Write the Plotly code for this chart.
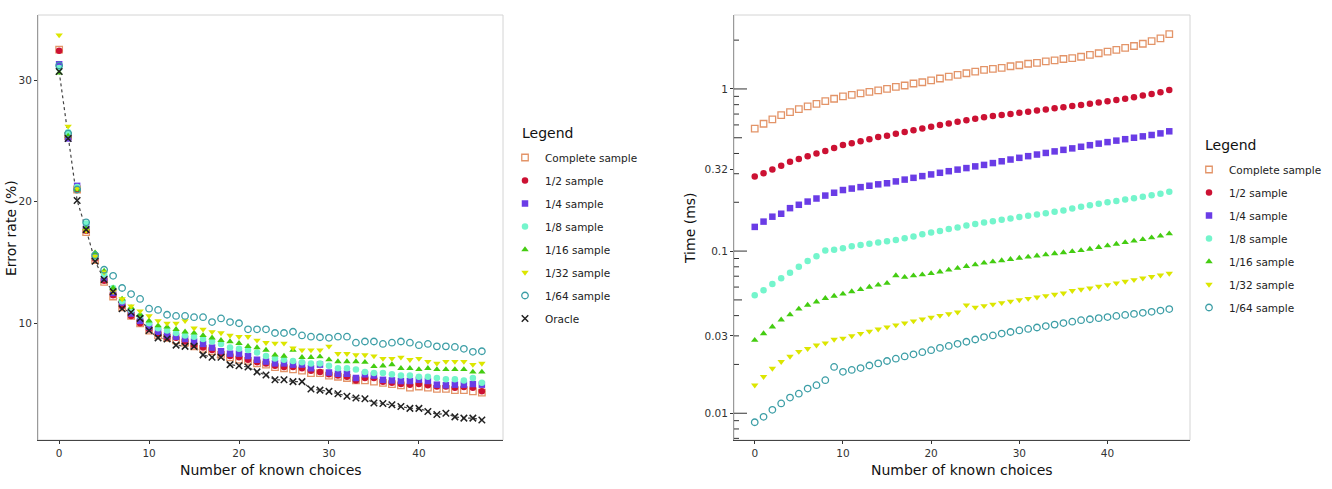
import plotly.graph_objects as go

# ---------------- data ----------------
known = list(range(48))

series_names = ["Complete sample", "1/2 sample", "1/4 sample", "1/8 sample",
                "1/16 sample", "1/32 sample", "1/64 sample"]

err_complete = [32.5, 25.4, 21.0, 17.5, 15.2, 13.4, 12.2, 11.3, 10.6, 10.0, 9.4, 9.0, 8.8, 8.6, 8.4, 8.1,
                7.9, 7.7, 7.4, 7.2, 7.0, 6.9, 6.7, 6.6, 6.4, 6.3, 6.2, 6.1, 5.9, 5.9, 5.7, 5.6,
                5.5, 5.3, 5.3, 5.2, 5.1, 5.0, 4.9, 4.7, 4.8, 4.7, 4.6, 4.6, 4.5, 4.5, 4.4, 4.3]
err_half = [32.4, 25.3, 21.0, 17.6, 15.3, 13.5, 12.3, 11.4, 10.6, 10.0, 9.5, 9.1, 8.8, 8.8, 8.5, 8.2,
            8.0, 7.8, 7.5, 7.3, 7.2, 7.0, 6.8, 6.7, 6.5, 6.4, 6.4, 6.3, 6.1, 6.0, 5.8, 5.7,
            5.6, 5.3, 5.5, 5.5, 5.2, 5.1, 5.0, 4.95, 5.0, 4.9, 4.8, 4.8, 4.7, 4.75, 4.7, 4.4]
err_quarter = [31.3, 25.2, 21.3, 17.9, 15.5, 13.7, 12.5, 11.7, 10.8, 10.2, 9.7, 9.3, 9.0, 8.9, 8.7, 8.5,
               8.3, 8.0, 7.7, 7.5, 7.5, 7.3, 7.0, 6.85, 6.7, 6.7, 6.6, 6.6, 6.3, 6.6, 5.95, 5.85,
               5.85, 5.5, 5.8, 5.7, 5.35, 5.3, 5.25, 5.25, 5.35, 5.25, 4.95, 4.9, 4.95, 4.95, 5.0, 4.95]
err_eighth = [31.0, 25.7, 21.2, 18.2, 15.4, 14.0, 12.9, 11.8, 11.1, 10.6, 10.0, 9.6, 9.4, 9.2, 9.0, 8.9,
              8.7, 8.5, 8.3, 8.0, 7.9, 7.8, 7.6, 7.3, 7.1, 7.0, 6.9, 6.8, 6.7, 6.7, 6.5, 6.3,
              6.3, 6.2, 6.0, 5.9, 5.9, 5.8, 5.7, 5.7, 5.6, 5.6, 5.5, 5.4, 5.4, 5.3, 5.5, 5.1]
err_16 = [30.6, 25.4, 21.0, 17.8, 15.8, 14.3, 12.9, 12.0, 11.3, 10.7, 10.2, 9.8, 9.7, 9.5, 9.3, 9.2,
          9.0, 8.8, 8.6, 8.5, 8.35, 8.1, 8.0, 7.8, 7.4, 7.3, 7.8, 7.2, 7.2, 7.25, 7.0, 6.85,
          6.85, 6.85, 6.8, 6.45, 6.5, 6.6, 6.3, 6.3, 6.2, 6.3, 6.2, 6.2, 6.2, 6.2, 6.0, 6.0]
err_32 = [33.7, 26.2, 21.1, 17.6, 15.5, 14.2, 12.6, 12.0, 11.4, 11.0, 10.6, 10.2, 10.0, 10.0, 10.2, 9.6,
          9.5, 9.3, 9.2, 9.0, 8.9, 8.9, 8.6, 8.4, 8.35, 8.35, 7.95, 7.8, 7.8, 7.8, 8.1, 7.5,
          7.5, 7.4, 7.4, 7.3, 7.1, 7.1, 7.2, 7.0, 7.1, 6.85, 6.7, 6.85, 6.85, 6.85, 6.6, 6.7]
err_64 = [31.2, 25.6, 21.0, 18.3, 15.6, 14.4, 13.9, 12.9, 12.4, 12.0, 11.2, 11.1, 10.7, 10.6, 10.6, 10.5,
          10.5, 10.1, 10.4, 10.1, 10.0, 9.5, 9.5, 9.5, 9.2, 9.2, 9.3, 9.0, 8.9, 8.85, 8.8, 8.9,
          8.9, 8.4, 8.5, 8.5, 8.3, 8.4, 8.5, 8.4, 8.2, 8.3, 8.1, 8.1, 8.05, 7.9, 7.65, 7.7]
err_oracle = [30.7, 25.2, 20.1, 17.7, 15.1, 13.6, 12.6, 11.2, 10.9, 10.4, 9.4, 8.8, 8.7, 8.2, 8.1, 8.1,
              7.4, 7.2, 7.2, 6.6, 6.5, 6.4, 6.0, 5.75, 5.35, 5.35, 5.2, 5.2, 4.6, 4.5, 4.4, 4.2,
              4.0, 3.85, 3.8, 3.45, 3.4, 3.3, 3.15, 3.0, 3.0, 2.75, 2.5, 2.6, 2.3, 2.2, 2.2, 2.05]

time_complete = [0.57, 0.61, 0.65, 0.69, 0.72, 0.75, 0.78, 0.81, 0.84, 0.87, 0.90, 0.92, 0.94, 0.96, 0.98, 1.0,
                 1.03, 1.05, 1.08, 1.10, 1.13, 1.16, 1.19, 1.22, 1.25, 1.28, 1.31, 1.33, 1.35, 1.38, 1.40, 1.43,
                 1.45, 1.48, 1.50, 1.53, 1.55, 1.58, 1.62, 1.66, 1.70, 1.74, 1.79, 1.84, 1.90, 1.97, 2.05, 2.18]
time_half = [0.288, 0.302, 0.319, 0.336, 0.356, 0.37, 0.385, 0.40, 0.415, 0.433, 0.451, 0.463, 0.476, 0.49, 0.505, 0.515,
             0.53, 0.543, 0.557, 0.571, 0.585, 0.599, 0.613, 0.627, 0.641, 0.655, 0.669, 0.68, 0.69, 0.70, 0.712, 0.724,
             0.736, 0.748, 0.76, 0.772, 0.785, 0.797, 0.81, 0.825, 0.84, 0.855, 0.87, 0.89, 0.91, 0.93, 0.955, 0.986]
time_quarter = [0.141, 0.152, 0.163, 0.17, 0.184, 0.193, 0.202, 0.211, 0.22, 0.229, 0.238, 0.243, 0.248, 0.253, 0.258, 0.262,
                0.269, 0.276, 0.283, 0.29, 0.297, 0.304, 0.311, 0.318, 0.325, 0.333, 0.34, 0.349, 0.358, 0.367, 0.376, 0.385,
                0.394, 0.403, 0.412, 0.421, 0.43, 0.44, 0.45, 0.46, 0.47, 0.48, 0.49, 0.50, 0.51, 0.52, 0.532, 0.548]
time_eighth = [0.0535, 0.0574, 0.0626, 0.0679, 0.0735, 0.080, 0.087, 0.093, 0.101, 0.102, 0.104, 0.107, 0.109, 0.111, 0.113, 0.115,
               0.117, 0.120, 0.123, 0.127, 0.130, 0.133, 0.137, 0.140, 0.144, 0.147, 0.150, 0.153, 0.156, 0.159, 0.162, 0.165,
               0.168, 0.171, 0.175, 0.178, 0.183, 0.188, 0.192, 0.196, 0.200, 0.204, 0.208, 0.212, 0.216, 0.221, 0.226, 0.232]
time_16 = [0.0282, 0.031, 0.0341, 0.0377, 0.0405, 0.044, 0.0465, 0.0487, 0.0511, 0.0528, 0.0544, 0.0563, 0.058, 0.060, 0.0618, 0.0634,
           0.0706, 0.069, 0.0705, 0.0715, 0.0728, 0.0745, 0.0765, 0.0785, 0.0805, 0.0825, 0.0845, 0.086, 0.0875, 0.089, 0.0905, 0.092,
           0.0935, 0.095, 0.0965, 0.098, 0.0995, 0.101, 0.103, 0.1055, 0.108, 0.1105, 0.113, 0.1155, 0.118, 0.121, 0.124, 0.128]
time_32 = [0.0149, 0.0168, 0.0189, 0.0208, 0.0224, 0.024, 0.025, 0.0263, 0.0271, 0.0285, 0.029, 0.030, 0.031, 0.032, 0.033, 0.034,
           0.035, 0.036, 0.037, 0.038, 0.039, 0.040, 0.041, 0.042, 0.0465, 0.045, 0.046, 0.047, 0.048, 0.049, 0.050, 0.051,
           0.052, 0.053, 0.054, 0.055, 0.057, 0.058, 0.059, 0.0605, 0.062, 0.0635, 0.065, 0.0665, 0.068, 0.0695, 0.071, 0.0728]
time_64 = [0.0088, 0.0095, 0.0105, 0.0115, 0.0125, 0.0132, 0.0142, 0.0149, 0.016, 0.0193, 0.018, 0.0185, 0.019, 0.0197, 0.0203, 0.021,
           0.0217, 0.0224, 0.0231, 0.0238, 0.0245, 0.0253, 0.026, 0.0268, 0.0276, 0.0285, 0.0295, 0.0302, 0.031, 0.0317, 0.0324, 0.0331,
           0.0338, 0.0345, 0.0352, 0.036, 0.0367, 0.0375, 0.038, 0.0386, 0.0392, 0.0398, 0.0404, 0.041, 0.0416, 0.0422, 0.043, 0.0439]

x_ticks = [0, 10, 20, 30, 40]
err_ticks = [10, 20, 30]
time_tickvals = [0.01, 0.03, 0.1, 0.32, 1]
time_ticktext = ["0.01", "0.03", "0.1", "0.32", "1"]

# ---------------- styles ----------------
colors = ["#E39468", "#CC1133", "#6A3CE6", "#74F5CC", "#44CC11", "#DCE600", "#3C9EA6"]
symbols = ["square-open", "circle", "square", "circle", "triangle-up", "triangle-down", "circle-open"]
err_series = [err_complete, err_half, err_quarter, err_eighth, err_16, err_32, err_64]
time_series = [time_complete, time_half, time_quarter, time_eighth, time_16, time_32, time_64]

FONT = "DejaVu Sans, Liberation Sans, sans-serif"
W, H = 1332, 489
# panel pixel boxes
L_X0, L_X1 = 38, 503
R_X0, R_X1 = 734, 1190
P_Y0, P_Y1 = 15, 440

fig = go.Figure()

# oracle dotted line (left)
fig.add_trace(go.Scatter(x=known, y=err_oracle, mode="lines",
                         line=dict(color="#444444", width=1.2, dash="dot"),
                         showlegend=False, hoverinfo="skip", xaxis="x", yaxis="y"))

for i, name in enumerate(series_names):
    fig.add_trace(go.Scatter(
        x=known, y=err_series[i], mode="markers", name=name,
        marker=dict(symbol=symbols[i], color=colors[i], size=6.5,
                    line=dict(width=1.3 if "open" in symbols[i] else 0, color=colors[i])),
        xaxis="x", yaxis="y", legend="legend", legendgroup="L%d" % i))
fig.add_trace(go.Scatter(
    x=known, y=err_oracle, mode="markers", name="Oracle",
    marker=dict(symbol="x-thin", color="#222222", size=6.5, line=dict(width=1.5, color="#222222")),
    xaxis="x", yaxis="y", legend="legend", legendgroup="L7"))

for i, name in enumerate(series_names):
    fig.add_trace(go.Scatter(
        x=known, y=time_series[i], mode="markers", name=name,
        marker=dict(symbol=symbols[i], color=colors[i], size=6.5,
                    line=dict(width=1.3 if "open" in symbols[i] else 0, color=colors[i])),
        xaxis="x2", yaxis="y2", legend="legend2", legendgroup="R%d" % i))

ax_common = dict(showgrid=False, zeroline=False, showline=True, ticks="outside",
                 ticklen=3, tickwidth=1, tickcolor="#333333",
                 tickfont=dict(family=FONT, size=10.5, color="#333333"))

fig.update_layout(
    width=W, height=H, margin=dict(l=0, r=0, t=0, b=0),
    paper_bgcolor="white", plot_bgcolor="white",
    font=dict(family=FONT, size=11, color="#222222"),
    xaxis=dict(domain=[L_X0 / W, L_X1 / W], range=[-2.35, 49.35], tickvals=x_ticks,
               linecolor="#444444", anchor="y", **ax_common),
    yaxis=dict(domain=[1 - P_Y1 / H, 1 - P_Y0 / H], range=[0.4, 35.35], tickvals=err_ticks,
               linecolor="#9a9a9a", anchor="x", **ax_common),
    xaxis2=dict(domain=[R_X0 / W, R_X1 / W], range=[-2.35, 49.35], tickvals=x_ticks,
                linecolor="#444444", anchor="y2", **ax_common),
    yaxis2=dict(domain=[1 - P_Y1 / H, 1 - P_Y0 / H], type="log", range=[-2.165, 0.456],
                tickvals=time_tickvals, ticktext=time_ticktext,
                linecolor="#9a9a9a", anchor="x2", **ax_common),
    legend=dict(x=505 / W, y=1 - 143 / H, xanchor="left", yanchor="top",
                font=dict(family=FONT, size=10.5, color="#222222"),
                tracegroupgap=4, itemwidth=30, bgcolor="rgba(0,0,0,0)"),
    legend2=dict(x=1189 / W, y=1 - 155 / H, xanchor="left", yanchor="top",
                 font=dict(family=FONT, size=10.5, color="#222222"),
                 tracegroupgap=4, itemwidth=30, bgcolor="rgba(0,0,0,0)"),
)

# panel borders (light)
shapes = []
for xr, yr in (("x domain", "y domain"), ("x2 domain", "y2 domain")):
    shapes.append(dict(type="rect", xref=xr, yref=yr, x0=0, x1=1, y0=0, y1=1,
                       line=dict(color="#d4d4d4", width=1), layer="below"))

# log ticks drawn inside the right panel's left edge
panel_w = R_X1 - R_X0
for dec in [0.001, 0.01, 0.1, 1.0]:
    for k in range(1, 10):
        v = k * dec
        if v < 10 ** -2.165 or v > 10 ** 0.456:
            continue
        ln = 13 if k == 1 else (8 if k == 5 else 5)
        shapes.append(dict(type="line", xref="x2 domain", yref="y2",
                           x0=0, x1=ln / panel_w, y0=v, y1=v,
                           line=dict(color="#333333", width=1)))
fig.update_layout(shapes=shapes)

TF = dict(family=FONT, size=14, color="#111111")
annotations = [
    dict(text="Number of known choices", x=(L_X0 + L_X1) / 2 / W, y=1 - 470 / H, xref="paper", yref="paper",
         showarrow=False, font=TF, xanchor="center", yanchor="middle"),
    dict(text="Number of known choices", x=(R_X0 + R_X1) / 2 / W, y=1 - 470 / H, xref="paper", yref="paper",
         showarrow=False, font=TF, xanchor="center", yanchor="middle"),
    dict(text="Error rate (%)", x=11 / W, y=1 - 228 / H, xref="paper", yref="paper", textangle=-90,
         showarrow=False, font=TF, xanchor="center", yanchor="middle"),
    dict(text="Time (ms)", x=690 / W, y=1 - 228 / H, xref="paper", yref="paper", textangle=-90,
         showarrow=False, font=TF, xanchor="center", yanchor="middle"),
    dict(text="Legend", x=520 / W, y=1 - 133 / H, xref="paper", yref="paper",
         showarrow=False, font=TF, xanchor="left", yanchor="middle"),
    dict(text="Legend", x=1203 / W, y=1 - 145 / H, xref="paper", yref="paper",
         showarrow=False, font=TF, xanchor="left", yanchor="middle"),
]
fig.update_layout(annotations=annotations)

fig.write_html("out.html")
